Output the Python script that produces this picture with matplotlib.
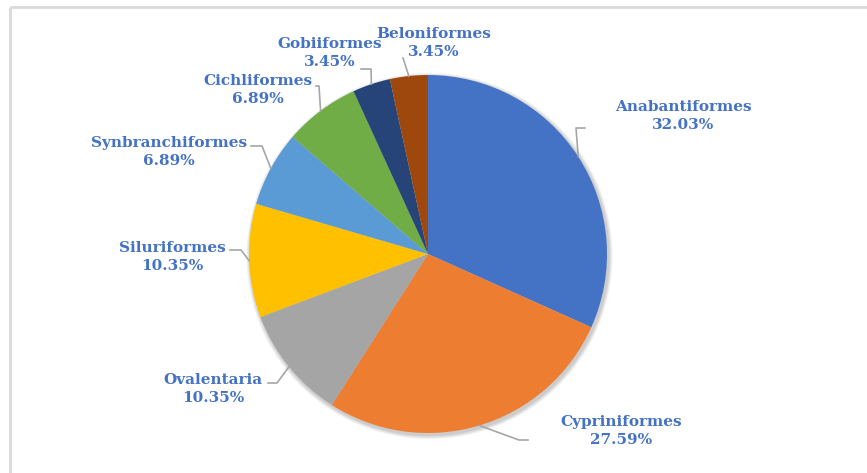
import numpy as np
import matplotlib
matplotlib.use("Agg")
import matplotlib.pyplot as plt
from matplotlib.patches import Circle

# dati
ordini = ['Anabantiformes', 'Cypriniformes', 'Ovalentaria', 'Siluriformes',
          'Synbranchiformes', 'Cichliformes', 'Gobiiformes', 'Beloniformes']
percentuali = [32.03, 27.59, 10.35, 10.35, 6.89, 6.89, 3.45, 3.45]
colori = ['#4472C4', '#ED7D31', '#A5A5A5', '#FFC000',
          '#5B9BD5', '#70AD47', '#264478', '#9E480E']

W, H = 867, 473
fig = plt.figure(figsize=(W / 100, H / 100), dpi=100)
ax = fig.add_axes([0, 0, 1, 1])


def py(y):
    # pixel dall'alto -> coordinate dati
    return H - y


cx, cy, r = 428, py(254), 179

# ombra morbida
for k, a in enumerate([0.05, 0.05, 0.05, 0.06]):
    ax.add_patch(Circle((cx + 1.5, cy - 2), r + 4 - k, color='black', alpha=a, lw=0, zorder=1))

wedges, _ = ax.pie(percentuali, colors=colori, startangle=90, counterclock=False,
                   center=(cx, cy), radius=r,
                   wedgeprops=dict(linewidth=0, zorder=2))
ax.set_xlim(0, W)
ax.set_ylim(0, H)
ax.set_aspect('equal')
ax.axis('off')

# bordo del grafico (solo alto e sinistra visibili)
ax.plot([10, W + 20], [py(7), py(7)], color='#D9D9D9', lw=2, solid_capstyle='butt', clip_on=False)
ax.plot([10, 10], [py(7), -20], color='#D9D9D9', lw=2, solid_capstyle='butt', clip_on=False)

# posizione etichette (centro testo) e linee guida (punti in pixel)
etichette_pos = [(683, 116), (621, 431), (213, 389), (172, 257),
                 (169, 152), (258, 90), (330, 53), (434, 43)]
guide = [[(585, 128), (576, 128)],
         [(528, 440), (519, 440)],
         [(268, 383), (277, 383)],
         [(230, 250), (241, 250)],
         [(251, 146), (262, 146)],
         [(316, 86), (319, 86)],
         [(361, 69), (371, 69)],
         [(403, 58)]]

for w, nome, p, (tx, ty), g in zip(wedges, ordini, percentuali, etichette_pos, guide):
    ang = np.deg2rad((w.theta1 + w.theta2) / 2)
    ex, ey = cx + r * np.cos(ang), cy + r * np.sin(ang)
    xs = [q[0] for q in g] + [ex]
    ys = [py(q[1]) for q in g] + [ey]
    ax.plot(xs, ys, color='#A6A6A6', lw=1.2, zorder=3)
    ax.text(tx, py(ty), f'{nome}\n{p:.2f}%', ha='center', va='center',
            color='#4472C4', fontsize=11, fontweight='heavy',
            family=['DejaVu Serif'], linespacing=1.3, zorder=4)

fig.savefig('out.png', dpi=100)
